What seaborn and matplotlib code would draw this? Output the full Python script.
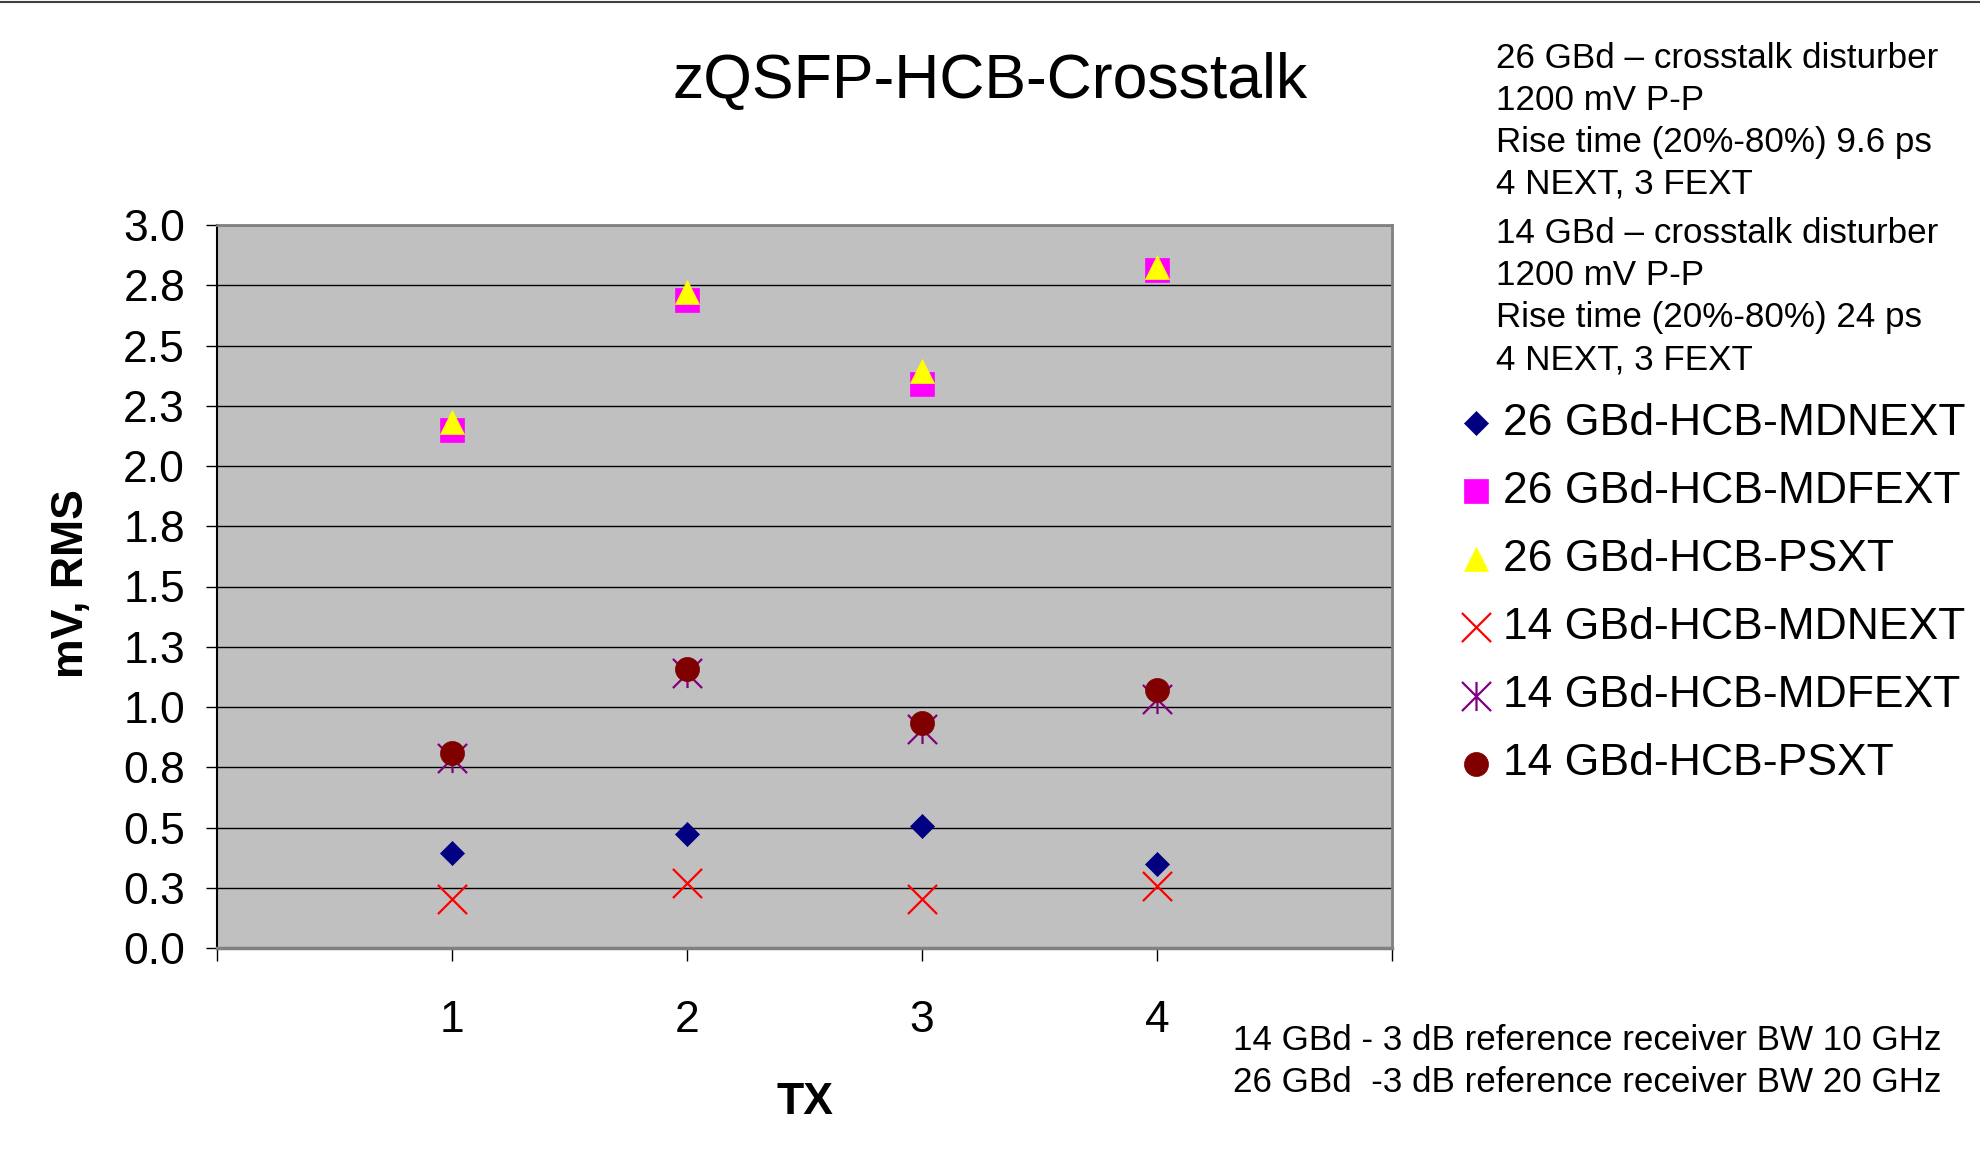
import numpy as np
import pandas as pd
import seaborn as sns
import matplotlib
matplotlib.use("Agg")
import matplotlib.pyplot as plt
from matplotlib.path import Path
from matplotlib.lines import Line2D

# ---------------- data ----------------
tx = [1, 2, 3, 4]
mdnext_26 = [0.395, 0.473, 0.507, 0.350]
mdfext_26 = [2.149, 2.689, 2.340, 2.814]
psxt_26 = [2.183, 2.722, 2.396, 2.824]
mdnext_14 = [0.204, 0.271, 0.203, 0.259]
mdfext_14 = [0.789, 1.140, 0.908, 1.035]
psxt_14 = [0.811, 1.159, 0.935, 1.071]

series_names = ["26 GBd-HCB-MDNEXT", "26 GBd-HCB-MDFEXT", "26 GBd-HCB-PSXT",
                "14 GBd-HCB-MDNEXT", "14 GBd-HCB-MDFEXT", "14 GBd-HCB-PSXT"]

y_ticks = [0, 0.25, 0.5, 0.75, 1.0, 1.25, 1.5, 1.75, 2.0, 2.25, 2.5, 2.75, 3.0]
y_tick_labels = ["0.0", "0.3", "0.5", "0.8", "1.0", "1.3", "1.5", "1.8",
                 "2.0", "2.3", "2.5", "2.8", "3.0"]
x_ticks = [0, 1, 2, 3, 4, 5]
x_tick_labels = ["", "1", "2", "3", "4", ""]

title = "zQSFP-HCB-Crosstalk"
x_label = "TX"
y_label = "mV, RMS"
notes_top = ["26 GBd \u2013 crosstalk disturber", "1200 mV P-P",
             "Rise time (20%-80%) 9.6 ps", "4 NEXT, 3 FEXT",
             "14 GBd \u2013 crosstalk disturber", "1200 mV P-P",
             "Rise time (20%-80%) 24 ps", "4 NEXT, 3 FEXT"]
notes_bottom = ["14 GBd - 3 dB reference receiver BW 10 GHz",
                "26 GBd  -3 dB reference receiver BW 20 GHz"]

# ---------------- style ----------------
sns.set_style("white")
plt.rcParams["font.family"] = ["Liberation Sans", "DejaVu Sans"]
plt.rcParams["text.color"] = "black"
plt.rcParams["axes.labelcolor"] = "black"
plt.rcParams["xtick.color"] = "black"
plt.rcParams["ytick.color"] = "black"

W, H = 1981, 1171
fig = plt.figure(figsize=(W / 100, H / 100), dpi=100)
fig.patch.set_facecolor("white")

L, R, T, B = 217, 1392, 225, 948
ax = fig.add_axes([L / W, 1 - B / H, (R - L) / W, (B - T) / H])
ax.set_facecolor("#C0C0C0")

star = Path([(-0.5, -0.5), (0.5, 0.5), (-0.5, 0.5), (0.5, -0.5), (0, -0.5), (0, 0.5)],
            [Path.MOVETO, Path.LINETO, Path.MOVETO, Path.LINETO, Path.MOVETO, Path.LINETO])

df = pd.DataFrame({"TX": tx,
                   series_names[0]: mdnext_26, series_names[1]: mdfext_26,
                   series_names[2]: psxt_26, series_names[3]: mdnext_14,
                   series_names[4]: mdfext_14, series_names[5]: psxt_14})

specs = [
    dict(marker="D", s=150, color="#000080", edgecolor="#000080", linewidth=0.5),
    dict(marker="s", s=300, color="#FF00FF", edgecolor="#FF00FF", linewidth=0.5),
    dict(marker="^", s=300, color="#FFFF00", edgecolor="#FFFF00", linewidth=0.5),
    dict(marker="x", s=440, color="#FF0000", linewidth=1.6),
    dict(marker=star, s=440, color="#800080", edgecolor="#800080", linewidth=1.6),
    dict(marker="o", s=300, color="#800000", edgecolor="#800000", linewidth=0.5),
]

for name, sp in zip(series_names, specs):
    sns.scatterplot(data=df, x="TX", y=name, ax=ax, label=name, zorder=3, **sp)

ax.set_xlim(0, 5)
ax.set_ylim(0, 3)
ax.set_yticks(y_ticks)
ax.set_yticklabels(y_tick_labels)
ax.set_xticks(x_ticks)
ax.set_xticklabels(x_tick_labels)
ax.grid(axis="y", color="black", linewidth=1.0, zorder=1)
ax.grid(axis="x", visible=False)
ax.set_axisbelow(True)

ax.tick_params(axis="y", direction="out", length=8, width=1.0, color="black",
               labelcolor="black", labelsize=32, pad=15, left=True)
ax.tick_params(axis="x", direction="out", length=9, width=1.0, color="black",
               labelcolor="black", labelsize=32, pad=28.5, bottom=True)

for side in ["top", "right"]:
    ax.spines[side].set_color("#808080")
    ax.spines[side].set_linewidth(2.0)
ax.spines["bottom"].set_color("#808080")
ax.spines["bottom"].set_linewidth(2.5)
ax.spines["left"].set_color("black")
ax.spines["left"].set_linewidth(1.5)

ax.set_xlabel(x_label, fontsize=32, fontweight="bold", va="center", color="black")
ax.xaxis.set_label_coords(0.5, (B - 1103) / (B - T))
ax.set_ylabel(y_label, fontsize=32, fontweight="bold", va="center", color="black")
ax.yaxis.set_label_coords((72 - L) / (R - L), (B - 584) / (B - T))

fig.text(990 / W, 1 - 82 / H, title, fontsize=45, ha="center", va="center", color="black")

leg = ax.legend(loc="center left", bbox_to_anchor=(1463 / W, 1 - 593.5 / H),
                bbox_transform=fig.transFigure, frameon=False, fontsize=32,
                borderaxespad=0, borderpad=0, handlelength=0.6,
                handletextpad=0.3, labelspacing=0.61, markerscale=1.0)
for t in leg.get_texts():
    t.set_color("black")

top_baselines = [68, 110, 152, 194, 243, 285, 327, 369]
for txt, yb in zip(notes_top, top_baselines):
    fig.text(1496 / W, 1 - yb / H, txt, fontsize=25.2, ha="left", va="baseline",
             color="black")

bottom_baselines = [1050, 1092]
for txt, yb in zip(notes_bottom, bottom_baselines):
    fig.text(1233 / W, 1 - yb / H, txt, fontsize=25.2, ha="left", va="baseline",
             color="black")

fig.add_artist(Line2D([0, 1], [1 - 1.5 / H, 1 - 1.5 / H], transform=fig.transFigure,
                      color="#404040", linewidth=1.5))

fig.savefig("out.png", dpi=100, facecolor="white")
